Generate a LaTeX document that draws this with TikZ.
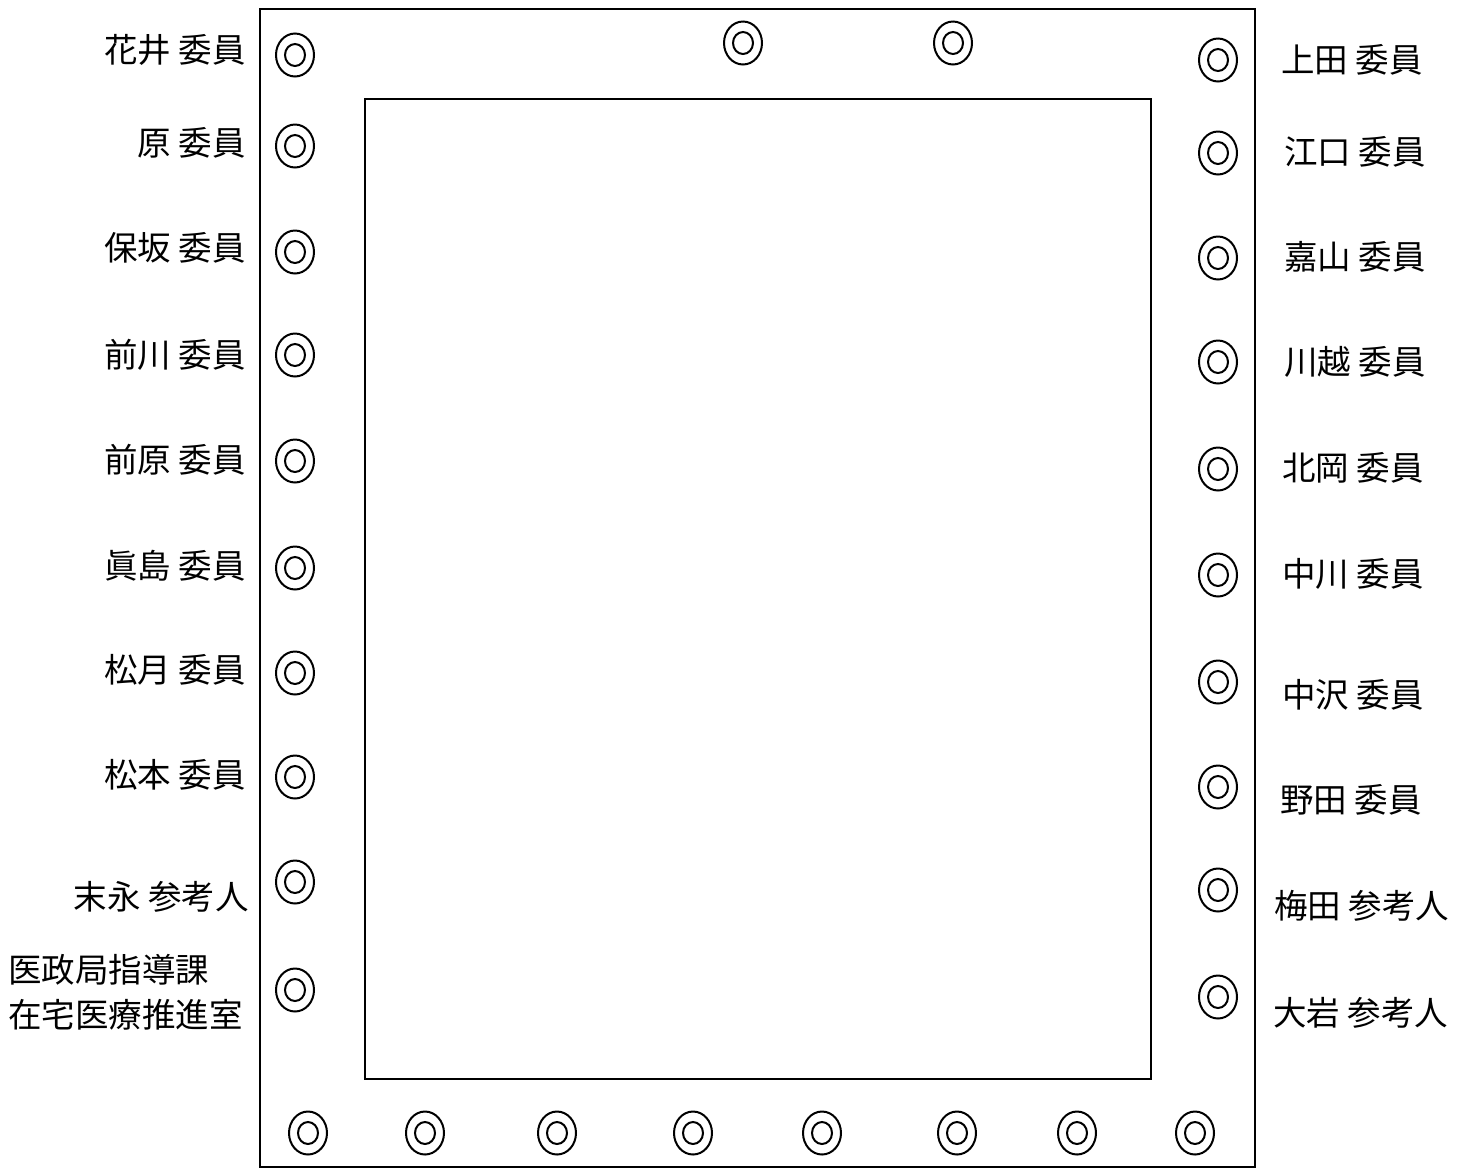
\documentclass[tikz,border=0pt]{standalone}
\usepackage{fontspec}
\setmainfont{Noto Sans CJK JP}
\usetikzlibrary{shapes.geometric}
\begin{document}
\begin{tikzpicture}[x=1pt,y=-1pt,
  seat/.style={ellipse,draw=black,line width=2pt,
    minimum width=38pt,minimum height=43pt,inner sep=0pt,
    path picture={\draw[line width=2pt] (path picture bounding box.center)
      ellipse [x radius=10pt, y radius=11pt];}},
  frame/.style={draw=black,line width=2pt},
  lbl/.style={font=\fontsize{33.5pt}{45pt}\selectfont,inner sep=0pt,align=left}]
\useasboundingbox (0,0) rectangle (1469,1171);
\fill[white] (0,0) rectangle (1469,1171);
% table frames
\draw[frame] (260,9) rectangle (1255,1167);
\draw[frame] (365,99) rectangle (1151,1079);
% top seats
\node[seat] (t1) at (743,43) {};
\node[seat] (t2) at (953,43) {};
% left column
\foreach \y [count=\i] in {55,146,252,355,461,568,673,777,882,990}
  \node[seat] (l\i) at (295,\y) {};
% right column
\foreach \y [count=\i] in {60,153,258,362,469,575,682,787,890,997}
  \node[seat] (r\i) at (1218,\y) {};
% bottom row
\foreach \x [count=\i] in {308,425,557,693,822,957,1077,1195}
  \node[seat] (b\i) at (\x,1133) {};
% left labels
\node[lbl,anchor=east] (ln1) at (246,50) {花井 委員};
\node[lbl,anchor=east] (ln2) at (246,143) {原 委員};
\node[lbl,anchor=east] (ln3) at (246,248) {保坂 委員};
\node[lbl,anchor=east] (ln4) at (246,355) {前川 委員};
\node[lbl,anchor=east] (ln5) at (246,460) {前原 委員};
\node[lbl,anchor=east] (ln6) at (246,566) {眞島 委員};
\node[lbl,anchor=east] (ln7) at (246,670) {松月 委員};
\node[lbl,anchor=east] (ln8) at (246,775) {松本 委員};
\node[lbl,anchor=east] (ln9) at (249,897) {末永 参考人};
\node[lbl,anchor=west] (ln10) at (8,992) {医政局指導課\\在宅医療推進室};
% right labels
\node[lbl,anchor=west] (rn1) at (1281,60) {上田 委員};
\node[lbl,anchor=west] (rn2) at (1284,152) {江口 委員};
\node[lbl,anchor=west] (rn3) at (1284,257) {嘉山 委員};
\node[lbl,anchor=west] (rn4) at (1284,362) {川越 委員};
\node[lbl,anchor=west] (rn5) at (1282,468) {北岡 委員};
\node[lbl,anchor=west] (rn6) at (1282,574) {中川 委員};
\node[lbl,anchor=west] (rn7) at (1282,695) {中沢 委員};
\node[lbl,anchor=west] (rn8) at (1280,800) {野田 委員};
\node[lbl,anchor=west] (rn9) at (1274,906) {梅田 参考人};
\node[lbl,anchor=west] (rn10) at (1273,1013) {大岩 参考人};
\end{tikzpicture}
\end{document}
